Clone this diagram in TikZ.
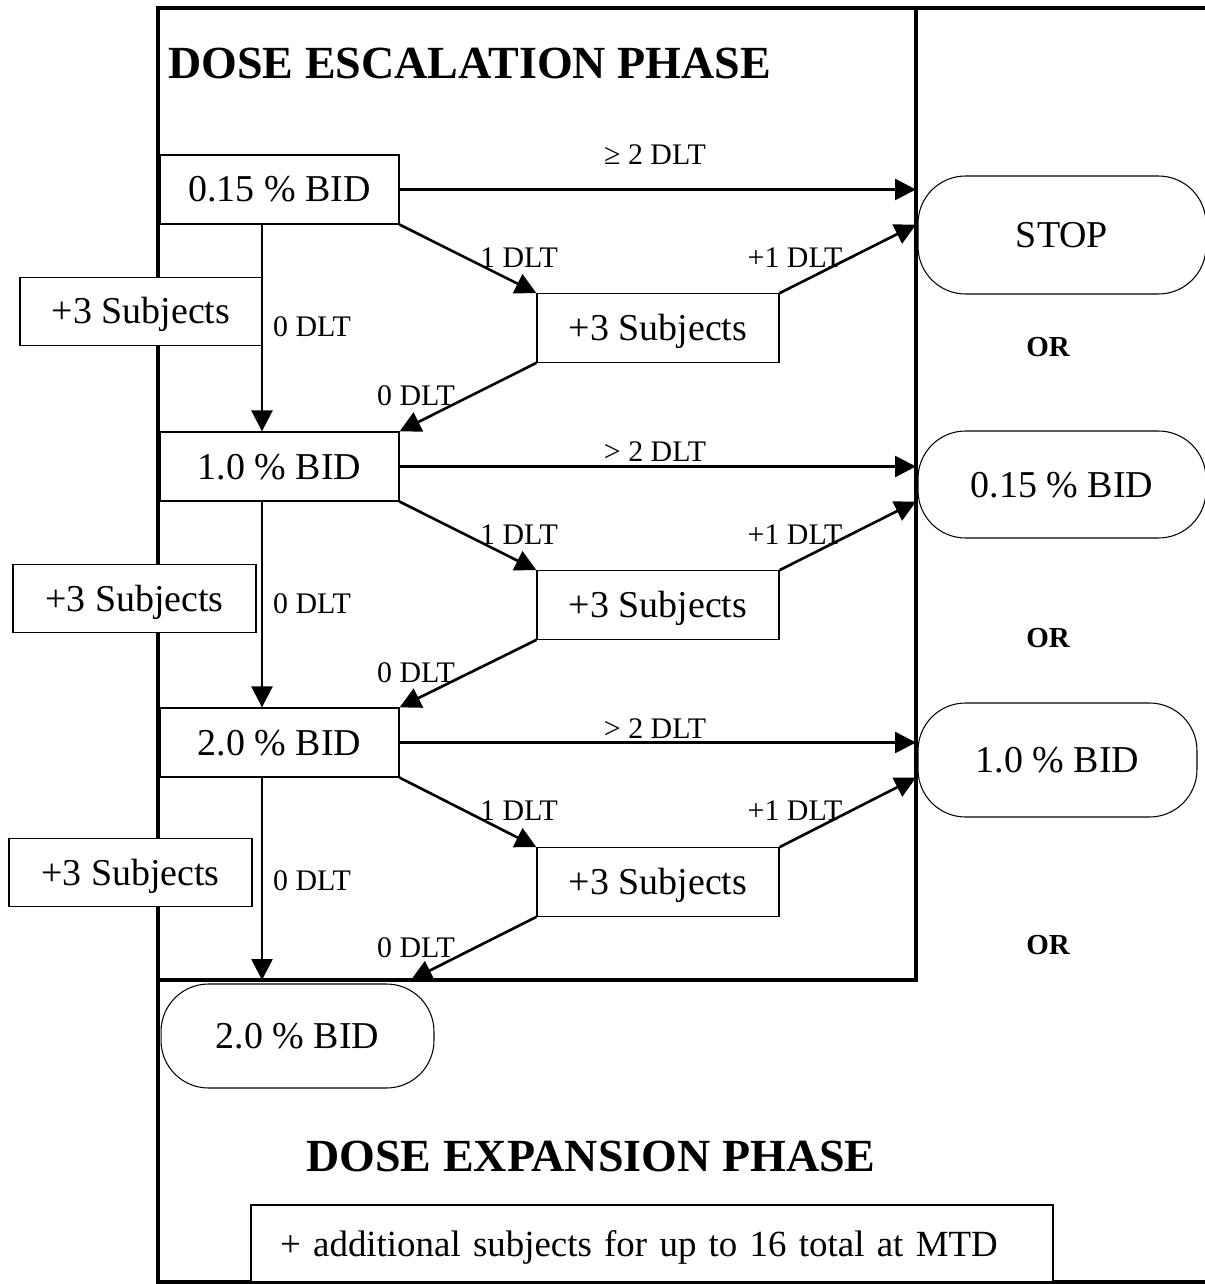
\documentclass[tikz,border=0pt]{standalone}
\usepackage{fontspec}
\setmainfont{Liberation Serif}
\usetikzlibrary{arrows.meta}

\begin{document}
\begin{tikzpicture}[x=0.02cm, y=-0.02cm,
  every node/.style={inner sep=0pt},
  dosebox/.style={draw, line width=0.75pt, fill=white, minimum width=4.78cm,
    minimum height=1.38cm, font=\fontsize{21.6}{26}\selectfont,
    text height=0.5cm, text depth=0pt},
  subjbox/.style={dosebox, minimum width=4.84cm, minimum height=1.37cm},
  pill/.style={dosebox, line width=0.6pt, rounded corners=0.95cm},
  lbl/.style={font=\fontsize{17}{20}\selectfont},
  orlbl/.style={font=\fontsize{16.5}{20}\selectfont\bfseries},
  phase/.style={font=\fontsize{26.2}{30}\selectfont\bfseries},
  arr/.style={-{Triangle[length=4.2mm, width=4.2mm]}, line width=1.5pt},
  frame/.style={line width=2.3pt}]

  \useasboundingbox (0,0) rectangle (1204,1284);

  % ── Frames round the two phases ──────────────────────────────
  \draw[frame] (1215,8) -- (158,8) -- (158,1282) -- (1215,1282);
  \draw[frame] (916,8) -- (916,980) -- (158,980);
  \coordinate (frameR) at (916,0);
  \coordinate (frameB) at (0,980);
  \coordinate (spine) at (262,0);
  \coordinate (cut3) at (411,980);

  \node[phase, anchor=west] (esc) at (168,63) {DOSE ESCALATION PHASE};

  % ── Dose levels (left) ───────────────────────────────────────
  \node[dosebox] (d015) at (279.5,189.5) {0.15 \% BID};
  \node[dosebox] (d10) at (279.5,466.5) {1.0 \% BID};
  \node[dosebox] (d20) at (279.5,742.5) {2.0 \% BID};

  % ── Expansion cohorts after 1 DLT (middle) ───────────────────
  \node[subjbox] (sm1) at (658,328) {+3 Subjects};
  \node[subjbox] (sm2) at (658,605) {+3 Subjects};
  \node[subjbox] (sm3) at (658,882) {+3 Subjects};

  % ── Outcomes (right) ─────────────────────────────────────────
  \node[pill, minimum width=5.76cm, minimum height=2.36cm] (stop) at (1062,235) {STOP};
  \node[orlbl] (or1) at (1048,347) {OR};
  \node[pill, minimum width=5.76cm, minimum height=2.14cm] (r015) at (1062,484.5) {0.15 \% BID};
  \node[orlbl] (or2) at (1048,638) {OR};
  \node[pill, minimum width=5.58cm, minimum height=2.28cm] (r10) at (1057.5,760) {1.0 \% BID};
  \node[orlbl] (or3) at (1048,945) {OR};

  % ── Row 1: 0.15 % BID ────────────────────────────────────────
  \draw[arr] (d015.east) -- (d015.east -| frameR);
  \node[lbl] (ge1) at (655,155) {≥ 2 DLT};
  \draw[arr] (d015.south east) -- (sm1.north west);
  \node[lbl] (one1) at (519,258) {1 DLT};
  \draw[arr] (sm1.north east) -- (d015.south east -| frameR);
  \node[lbl] (plus1) at (795,258) {+1 DLT};
  \draw[arr] (sm1.south west) -- (d10.north east);
  \node[lbl] (zd1) at (416,396) {0 DLT};
  \draw[arr] (d015.south -| spine) -- (d10.north -| spine);
  \node[lbl] (zv1) at (312,327) {0 DLT};

  % ── Row 2: 1.0 % BID ─────────────────────────────────────────
  \draw[arr] (d10.east) -- (d10.east -| frameR);
  \node[lbl] (gt2) at (655,452) {> 2 DLT};
  \draw[arr] (d10.south east) -- (sm2.north west);
  \node[lbl] (one2) at (519,535) {1 DLT};
  \draw[arr] (sm2.north east) -- (d10.south east -| frameR);
  \node[lbl] (plus2) at (795,535) {+1 DLT};
  \draw[arr] (sm2.south west) -- (d20.north east);
  \node[lbl] (zd2) at (416,673) {0 DLT};
  \draw[arr] (d10.south -| spine) -- (d20.north -| spine);
  \node[lbl] (zv2) at (312,604) {0 DLT};

  % ── Row 3: 2.0 % BID ─────────────────────────────────────────
  \draw[arr] (d20.east) -- (d20.east -| frameR);
  \node[lbl] (gt3) at (655,729) {> 2 DLT};
  \draw[arr] (d20.south east) -- (sm3.north west);
  \node[lbl] (one3) at (519,811) {1 DLT};
  \draw[arr] (sm3.north east) -- (d20.south east -| frameR);
  \node[lbl] (plus3) at (795,811) {+1 DLT};
  \draw[arr] (sm3.south west) -- (cut3);
  \node[lbl] (zd3) at (416,948) {0 DLT};
  \draw[arr] (d20.south -| spine) -- (spine |- frameB);
  \node[lbl] (zv3) at (312,881) {0 DLT};

  % ── Cohorts on the left, over the spine and frame ────────────
  \node[subjbox] (sl1) at (141,311.5) {+3 Subjects};
  \node[subjbox, minimum width=4.86cm] (sl2) at (134.5,598.5) {+3 Subjects};
  \node[subjbox, minimum width=4.86cm] (sl3) at (130.5,872.5) {+3 Subjects};

  % ── Dose expansion ───────────────────────────────────────────
  \node[pill, minimum width=5.46cm, minimum height=2.08cm] (mtd) at (297.5,1036) {2.0 \% BID};
  \node[phase] (expn) at (591,1156) {DOSE EXPANSION PHASE};
  \node[dosebox, text width=14.88cm, inner xsep=0.58cm, align=left,
    minimum height=1.54cm, font=\fontsize{21}{26}\selectfont] (more) at (652,1243.5)
    {+ additional subjects for up to 16 total at MTD};

\end{tikzpicture}
\end{document}
